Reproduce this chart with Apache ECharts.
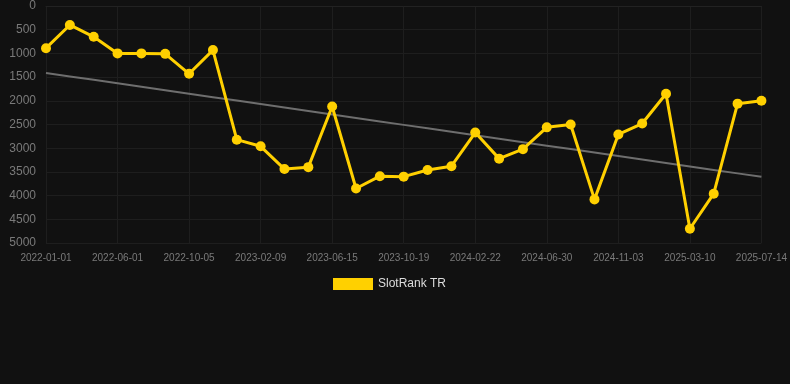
<!DOCTYPE html>
<html>
<head>
<meta charset="utf-8">
<script src="https://cdn.jsdelivr.net/npm/echarts@6/dist/echarts.min.js"></script>
<style>
html,body{margin:0;padding:0;background:#111111;}
#chart{width:790px;height:384px;}
</style>
</head>
<body>
<div id="chart"></div>
<script>
const categories = [
  '2022-01-01','2022-02-20','2022-04-11','2022-06-01','2022-07-13','2022-08-24',
  '2022-10-05','2022-11-16','2022-12-28','2023-02-09','2023-03-23','2023-05-04',
  '2023-06-15','2023-07-27','2023-09-07','2023-10-19','2023-11-30','2024-01-11',
  '2024-02-22','2024-04-05','2024-05-18','2024-06-30','2024-08-11','2024-09-22',
  '2024-11-03','2024-12-15','2025-01-27','2025-03-10','2025-04-21','2025-06-02',
  '2025-07-14'
];
const rankValues = [
  890, 400, 650, 1000, 1000, 1010,
  1430, 930, 2820, 2960, 3440, 3400,
  2120, 3850, 3590, 3600, 3460, 3380,
  2670, 3220, 3020, 2560, 2500, 4080,
  2710, 2480, 1850, 4700, 3960, 2060,
  2000
];
const seriesName = 'SlotRank TR';

// linear regression trend derived from the data
const n = rankValues.length;
let sx = 0, sy = 0, sxy = 0, sxx = 0;
rankValues.forEach((v, i) => { sx += i; sy += v; sxy += i * v; sxx += i * i; });
const slope = (n * sxy - sx * sy) / (n * sxx - sx * sx);
const intercept = (sy - slope * sx) / n;
const trendValues = rankValues.map((_, i) => Math.round(intercept + slope * i));

const chart = echarts.init(document.getElementById('chart'), null, {renderer: 'canvas'});
chart.setOption({
  backgroundColor: '#111111',
  animation: false,
  grid: {left: 46, right: 28, top: 6, bottom: 141, containLabel: false},
  legend: {
    data: [{name: seriesName, icon: 'rect'}],
    top: 278,
    left: 333,
    padding: 0,
    itemWidth: 40,
    itemHeight: 12,
    itemGap: 10,
    textStyle: {color: '#dddddd', fontSize: 12, fontFamily: 'Liberation Sans, Arial, sans-serif'}
  },
  xAxis: {
    type: 'category',
    data: categories,
    boundaryGap: false,
    axisLine: {show: true, lineStyle: {color: '#222222'}},
    axisTick: {show: false},
    axisLabel: {
      interval: 2,
      color: '#7a7a7a',
      fontSize: 10,
      margin: 10,
      fontFamily: 'Liberation Sans, Arial, sans-serif'
    },
    splitLine: {show: true, interval: 2, lineStyle: {color: '#1e1e1e'}}
  },
  yAxis: {
    type: 'value',
    inverse: true,
    min: 0,
    max: 5000,
    interval: 500,
    axisLine: {show: false},
    axisTick: {show: false},
    axisLabel: {
      color: '#7a7a7a',
      fontSize: 12,
      margin: 10,
      formatter: function (v) { return String(v); },
      fontFamily: 'Liberation Sans, Arial, sans-serif'
    },
    splitLine: {show: true, lineStyle: {color: '#1e1e1e'}}
  },
  series: [
    {
      name: 'trend',
      type: 'line',
      data: trendValues,
      symbol: 'none',
      lineStyle: {color: '#6e6e6e', width: 2},
      z: 1,
      silent: true
    },
    {
      name: seriesName,
      type: 'line',
      data: rankValues,
      symbol: 'circle',
      symbolSize: 10,
      itemStyle: {color: '#FFD000'},
      lineStyle: {color: '#FFD000', width: 3},
      z: 3
    }
  ]
});
</script>
</body>
</html>
